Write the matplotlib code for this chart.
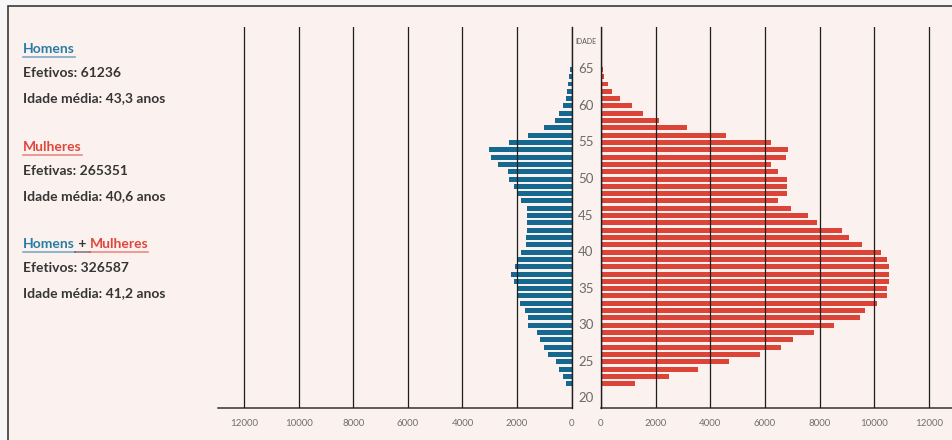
import matplotlib.pyplot as plt
from matplotlib.patches import Rectangle
from matplotlib.lines import Line2D
from matplotlib.transforms import blended_transform_factory

# one bar per age, youngest first
ages = list(range(22, 66))
homens = [200, 320, 460, 580, 880, 1020, 1140, 1280, 1590, 1590,
          1710, 1880, 1990, 1990, 2110, 2210, 2060, 1990, 1850, 1670,
          1670, 1640, 1640, 1640, 1640, 1850, 1990, 2110, 2280, 2330,
          2690, 2960, 3020, 2280, 1580, 1020, 590, 460, 295, 200,
          150, 140, 105, 60]
mulheres = [1240, 2480, 3540, 4690, 5810, 6570, 7020, 7780, 8530, 9470,
            9660, 10110, 10460, 10460, 10550, 10550, 10540, 10480, 10250, 9560,
            9070, 8800, 7910, 7580, 6940, 6480, 6800, 6800, 6800, 6480,
            6220, 6760, 6850, 6220, 4560, 3160, 2110, 1540, 1120, 680,
            420, 250, 120, 70]
x_ticks = [0, 2000, 4000, 6000, 8000, 10000, 12000]
age_labels = list(range(20, 70, 5))

summary = [
    ('Homens', 'Efetivos: 61236', 'Idade média: 43,3 anos'),
    ('Mulheres', 'Efetivas: 265351', 'Idade média: 40,6 anos'),
    ('Homens + Mulheres', 'Efetivos: 326587', 'Idade média: 41,2 anos'),
]

BLUE = '#15688f'
RED = '#dc4437'
BLUE_TXT = '#2a7ca6'
RED_TXT = '#e0463b'
DARK = '#353535'
BG = '#fbf1ee'
GRID = '#1e1e1e'

plt.rcParams['font.family'] = ['Lato', 'DejaVu Sans']

W, H = 952, 440
fig = plt.figure(figsize=(W / 100, H / 100), dpi=100, facecolor='#f7f7f7')
fig.patches.append(Rectangle((8 / W, -0.05), 1.1, 1 - 6 / H + 0.05,
                             transform=fig.transFigure, facecolor=BG,
                             edgecolor='#3a3a3a', lw=1.2, zorder=-5))


def px_axes(x0, x1, y_top, y_bot):
    return fig.add_axes([x0 / W, 1 - y_bot / H, (x1 - x0) / W, (y_bot - y_top) / H])


ax_l = px_axes(218, 571.5, 27, 408)
ax_r = px_axes(601, 952, 27, 408)

ax_l.barh(ages, homens, height=0.68, color=BLUE, zorder=1)
ax_r.barh(ages, mulheres, height=0.68, color=RED, zorder=1)

ax_l.set_xlim(12970, 0)
ax_r.set_xlim(0, 12840)
for ax in (ax_l, ax_r):
    ax.set_facecolor('none')
    ax.set_ylim(18.67, 70.8)
    ax.set_xticks(x_ticks)
    ax.set_xticklabels([str(t) for t in x_ticks])
    ax.set_yticks([])
    ax.set_axisbelow(False)
    ax.grid(axis='x', color=GRID, lw=0.9)
    # zero line sits on the axes edge, keep it from being clipped
    ax.axvline(0, color=GRID, lw=1.0, clip_on=False, zorder=3)
    for s in ('top', 'left', 'right'):
        ax.spines[s].set_visible(False)
    ax.spines['bottom'].set_color('#333333')
    ax.spines['bottom'].set_linewidth(1.1)
    ax.tick_params(axis='x', length=0, pad=8, labelsize=7, labelcolor='#707070')

# age labels between the two halves
tr = blended_transform_factory(fig.transFigure, ax_l.transData)
for a in age_labels:
    fig.text(586 / W, a, str(a), transform=tr, ha='center', va='center',
             fontsize=9.5, color='#6a6a6a')
fig.text(586 / W, 1 - 41 / H, 'IDADE', ha='center', va='center',
         fontsize=5, color='#555555')

# summary block on the left
fig.canvas.draw()
renderer = fig.canvas.get_renderer()


def underline(txt, color):
    bb = txt.get_window_extent(renderer)
    y = bb.y0 - 2
    fig.lines.append(Line2D([bb.x0 / W, bb.x1 / W], [y / H, y / H],
                            transform=fig.transFigure, color=color, lw=1.2, alpha=0.6))
    return bb


x0 = 23 / W
rows_y = [49, 147, 244]
for (title, line1, line2), ty in zip(summary, rows_y):
    y = 1 - ty / H
    kw = dict(fontsize=10, fontweight='bold', va='center', ha='left')
    if title == 'Homens':
        t = fig.text(x0, y, title, color=BLUE_TXT, **kw)
        underline(t, BLUE_TXT)
    elif title == 'Mulheres':
        t = fig.text(x0, y, title, color=RED_TXT, **kw)
        underline(t, RED_TXT)
    else:
        t1 = fig.text(x0, y, 'Homens', color=BLUE_TXT, **kw)
        bb = underline(t1, BLUE_TXT)
        t2 = fig.text(bb.x1 / W, y, ' + ', color=DARK, **kw)
        fig.canvas.draw()
        bb2 = underline(t2, DARK)
        t3 = fig.text(bb2.x1 / W, y, 'Mulheres', color=RED_TXT, **kw)
        fig.canvas.draw()
        underline(t3, RED_TXT)
    fig.text(x0, 1 - (ty + 24) / H, line1, color=DARK, **kw)
    fig.text(x0, 1 - (ty + 49) / H, line2, color=DARK, **kw)

fig.savefig('out.png', dpi=100, facecolor=fig.get_facecolor())
